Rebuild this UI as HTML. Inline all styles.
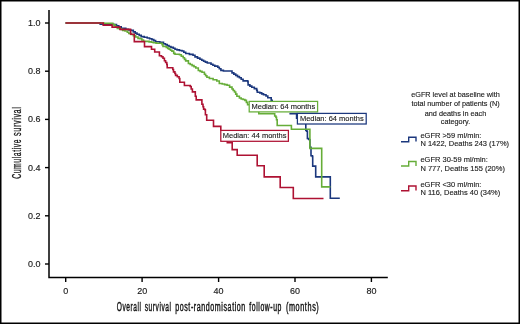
<!DOCTYPE html>
<html><head><meta charset="utf-8"><style>
html,body{margin:0;padding:0;background:#fff;}
svg{display:block;will-change:transform;}
text{font-family:"Liberation Sans",sans-serif;fill:#1a1a1a;}
</style></head><body>
<svg width="520" height="324" viewBox="0 0 520 324">
<rect x="0.75" y="0.75" width="518.5" height="322.5" fill="#fff" stroke="#000" stroke-width="1.5"/>
<g stroke="#000" stroke-width="1.5" fill="none">
<path d="M49 10V277.6H387.8"/>
<line x1="45" y1="264.0" x2="49" y2="264.0" stroke-width="1.4"/><line x1="45" y1="215.8" x2="49" y2="215.8" stroke-width="1.4"/><line x1="45" y1="167.6" x2="49" y2="167.6" stroke-width="1.4"/><line x1="45" y1="119.4" x2="49" y2="119.4" stroke-width="1.4"/><line x1="45" y1="71.2" x2="49" y2="71.2" stroke-width="1.4"/><line x1="45" y1="23.0" x2="49" y2="23.0" stroke-width="1.4"/><line x1="65.7" y1="277" x2="65.7" y2="282" stroke-width="1.4"/><line x1="142.1" y1="277" x2="142.1" y2="282" stroke-width="1.4"/><line x1="218.6" y1="277" x2="218.6" y2="282" stroke-width="1.4"/><line x1="295.0" y1="277" x2="295.0" y2="282" stroke-width="1.4"/><line x1="371.4" y1="277" x2="371.4" y2="282" stroke-width="1.4"/>
</g>
<g font-size="9" stroke="#1a1a1a" stroke-width="0.15"><text transform="translate(40.40 267.05) scale(1 1.08)" text-anchor="end">0.0</text><text transform="translate(40.40 218.85) scale(1 1.08)" text-anchor="end">0.2</text><text transform="translate(40.40 170.65) scale(1 1.08)" text-anchor="end">0.4</text><text transform="translate(40.40 122.45) scale(1 1.08)" text-anchor="end">0.6</text><text transform="translate(40.40 74.25) scale(1 1.08)" text-anchor="end">0.8</text><text transform="translate(40.40 26.05) scale(1 1.08)" text-anchor="end">1.0</text><text transform="translate(65.70 294.00) scale(1 1.08)" text-anchor="middle">0</text><text transform="translate(142.13 294.00) scale(1 1.08)" text-anchor="middle">20</text><text transform="translate(218.56 294.00) scale(1 1.08)" text-anchor="middle">40</text><text transform="translate(294.99 294.00) scale(1 1.08)" text-anchor="middle">60</text><text transform="translate(371.42 294.00) scale(1 1.08)" text-anchor="middle">80</text></g>
<g font-size="12" fill="#111" stroke="#111" stroke-width="0.45" letter-spacing="1"><text x="116.8" y="311.1" textLength="24.7" lengthAdjust="spacingAndGlyphs">Overall</text><text x="144.7" y="311.1" textLength="26.9" lengthAdjust="spacingAndGlyphs">survival</text><text x="175.2" y="311.1" textLength="70.7" lengthAdjust="spacingAndGlyphs">post-randomisation</text><text x="249.3" y="311.1" textLength="32.7" lengthAdjust="spacingAndGlyphs">follow-up</text><text x="285.9" y="311.1" textLength="33.5" lengthAdjust="spacingAndGlyphs">(months)</text><text transform="translate(20.6 178.8) rotate(-90)" textLength="39.9" lengthAdjust="spacingAndGlyphs" stroke-width="0.3">Cumulative</text><text transform="translate(20.6 136.0) rotate(-90)" textLength="29.5" lengthAdjust="spacingAndGlyphs" stroke-width="0.3">survival</text></g>
<g fill="none" stroke-width="1.6" stroke-linejoin="miter" stroke-linecap="butt">
<path d="M65.5 23H100.2V24.3H104H112.7H113.5V24.6H116.5V25.8H118.8V26.8H121.2V28.2H125.8V29.2H128.5V29.9H130.6V30.4H133.3V31.9H135.2V33.1H137V34.3H139.2V35.4H141.2V36.6H144.2V37.3H147.2V38H149.6V38.7H151.9V39.6H153.8V40.6H155.6V41.7H159.8V42.3H163.5V43.7H165.4V44.6H167.2V45.6H169V46.5H170.9V47.4H173.3V48.3H175V49.3H177V49.9H179.5V50.5H182V51H183.8V52.3H185.7V53.5H189.4V54.4H193V55.3H195V56.9H197.5V58.1H199.9V59.3H201.8V60.2H203.6V61.2H205.4V62.1H207.3V63H211V64.3H212.9V65.2H214.8V66.1H217.8V67.3H219.3V68.8H220.9V70.4H223.4V71H229.6H232V72.9H233.8V74.1H235.7V75.4H237.5V76.6H239.4V77.8H241.2V79.3H243.1V80.9H247.8V81.8H248.1V84.9H249.9V86.1H251.8V87.3H254.3V88.6H256.7V90.4H257.3V92.3H259.8V92.9H261.7V93.9H263.5V94.8H266V96H267.8V97.8H271.2V100.3H272.2V103" stroke="#1b377d"/><path d="M289.4 113.6H296.6V119" stroke="#1b377d"/><path d="M305.8 123V130.5H306.8V131.2H307.4V131.7V138.5H308.6V139.2H309.3V139.8H309.9V147.2H311V155.8H312.3V156.4H312.7V166.1H315.7V176.9H330.3V198.3H339.8" stroke="#1b377d"/><path d="M65.5 23H104V23.3H112.8V24.6H114.5V25.4H115.5V27H117.3V28.4H119.6V28.9H121.2V29.4H122.7V30.4H125V31H127.3V32.2H128.8V33.5H131.2V34.5H133.3V35.6H135.6V37H138V38.4H140V38.8H141.8V40H143.5V41.2H145V41.4H149.1V41.9H151.5V42.3H153.3V42.8H156.1V43.2H160.7H162.1V44.6H163V46.5H166.3V47.4H167.7V48.4H169.1V49.3H170.5V50.2H171.9V51.1H173.7V53.4H175V54.2H179.5V54.7H181.3V56.2H183.2V57.8H184.5V59.4H185.7V60.9H188.4V63.5H190.2V64.5H192.1V65.6H194V66.8H195.8V68H198.3V70.5H200.1V71.4H202V72.3H204.4V74.2H205.6V75.8H206.9V77.3H209.4V78.5H213.1V79.8H216.8V81H219.3V83.5H222.2V84H224.6V84.6H227.1V85.2H229.6V87.1H232V89H233.2V90.5H234.5V92H235.7V94.1H236.9V96.2H239.4V98H241.2V99H243.1V99.5H244.9V100.4H246.4V102.4H247.6V104.8H250" stroke="#66ad38"/><path d="M258.8 110V113.8H274.1H274.7V116H275.9V117.3H276.5V119.8H277.2V125.5H291.4V129.2H309.9V148.4H321.7V186.9H330.4" stroke="#66ad38"/><path d="M65.5 23H103.2V25.1H112.1V27.1H120V29.4H130.6V34.2H134.3V41.6H144.5V46.6H151.5V49.3H154.7V52H159.4V55.7H161.5V56.8H163V58.3H164.4V60.8H165.6V62.5H166.8V64.5H167.2V67.8H172.8V69.5H173.5V71.9H174.9V73.5H175.6V75.4H177.3V76.7H179.1V78.5H179.8V82.2H184.4V85.5H190.2V86.5H191.2V89H192.4V91.9H195.3V96.2H196.2V99.9H201.9V104.2H203V106.7H203.6V109.1H204.8V109.8H205.4V114.7H206.7V120.2H213.5V126.4H220.8V131" stroke="#ae1233"/><path d="M226.5 141.3H227.3V142.8H232.2V149.6H237.2V155.2H257.2V165.8H264.2V176.9H280.2V187.5H293.3V198.5H323.5" stroke="#ae1233"/>
</g>
<g font-size="7.5" stroke="#1a1a1a" stroke-width="0.12"><rect x="249.2" y="101.4" width="68.4" height="10.5" fill="#fff" stroke="#66ad38" stroke-width="1.25"/><text transform="translate(283.40 109.30) scale(1 1.08)" text-anchor="middle">Median: 64 months</text><rect x="297.4" y="113.4" width="68.8" height="10.6" fill="#fff" stroke="#1b377d" stroke-width="1.25"/><text transform="translate(331.80 121.40) scale(1 1.08)" text-anchor="middle">Median: 64 months</text><rect x="220.8" y="130.4" width="67.6" height="10.9" fill="#fff" stroke="#ae1233" stroke-width="1.25"/><text transform="translate(254.60 138.40) scale(1 1.08)" text-anchor="middle">Median: 44 months</text></g>
<g font-size="7.5" stroke="#1a1a1a" stroke-width="0.12"><text transform="translate(420.40 137.70) scale(1 1.08)">eGFR &gt;59 ml/min:</text><text transform="translate(420.40 146.30) scale(1 1.08)">N 1422, Deaths 243 (17%)</text><text transform="translate(420.40 162.00) scale(1 1.08)">eGFR 30-59 ml/min:</text><text transform="translate(420.40 170.60) scale(1 1.08)">N 777, Deaths 155 (20%)</text><text transform="translate(420.40 186.60) scale(1 1.08)">eGFR &lt;30 ml/min:</text><text transform="translate(420.40 195.20) scale(1 1.08)">N 116, Deaths 40 (34%)</text></g>
<g font-size="7.3" stroke="#1a1a1a" stroke-width="0.12"><text transform="translate(455.50 97.00) scale(1 1.08)" text-anchor="middle">eGFR level at baseline with</text><text transform="translate(455.50 106.10) scale(1 1.08)" text-anchor="middle">total number of patients (N)</text><text transform="translate(455.50 115.70) scale(1 1.08)" text-anchor="middle">and deaths in each</text><text transform="translate(455.50 124.40) scale(1 1.08)" text-anchor="middle">category.</text></g>
<path d="M401 141.7H408.7V137.3H416V141.6" stroke="#1b377d" stroke-width="1.4" fill="none"/><path d="M401 166.0H408.7V161.5H416V165.9" stroke="#66ad38" stroke-width="1.4" fill="none"/><path d="M401 190.7H408.7V186.0H416V190.6" stroke="#ae1233" stroke-width="1.4" fill="none"/>
</svg>
</body></html>
